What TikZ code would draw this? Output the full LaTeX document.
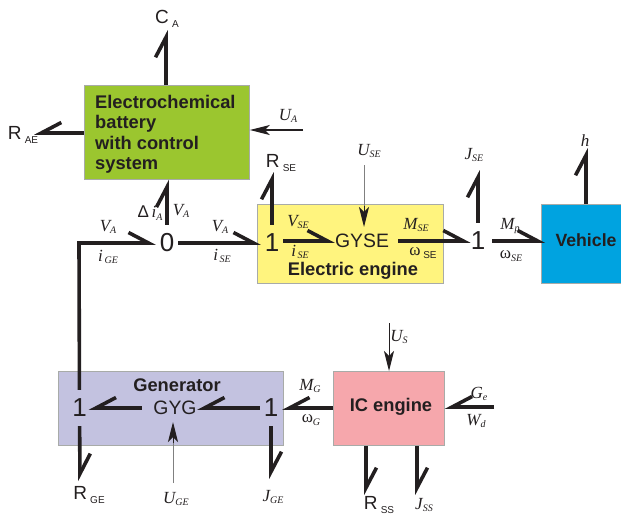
\documentclass[tikz,border=0pt]{standalone}
\usepackage{fontspec}
\setmainfont{Liberation Sans}
\newfontfamily\lserif{Liberation Serif}
\usetikzlibrary{arrows.meta}
\definecolor{ink}{HTML}{231F20}
\definecolor{cgreen}{HTML}{9BC62F}
\definecolor{cyellow}{HTML}{FFF47E}
\definecolor{cblue}{HTML}{00A3E0}
\definecolor{cpurple}{HTML}{C3C2E0}
\definecolor{cpink}{HTML}{F6A7AC}
\definecolor{cedge}{HTML}{A8ABA8}
\newcommand\symlab[2]{{\lserif\itshape\fontsize{17}{17}\selectfont #1\raisebox{-2.5pt}{\fontsize{10}{10}\selectfont #2}}}
\newcommand\omlab[2]{{\lserif\fontsize{17}{17}\selectfont ω\raisebox{-2.5pt}{\itshape\fontsize{10}{10}\selectfont #2}}}
\newcommand\ressub[2]{{\fontsize{19}{19}\selectfont #1\,\raisebox{-4pt}{\fontsize{10}{10}\selectfont #2}}}
\tikzset{
  block/.style={draw=cedge,line width=0.8pt,anchor=north west,inner sep=0pt},
  blocktext/.style={font=\fontsize{18.3}{20.4}\selectfont\bfseries,text=ink,inner sep=0pt},
  gyr/.style={font=\fontsize{19.4}{19}\selectfont,text=ink,inner sep=0pt,minimum width=#1,minimum height=18pt},
  junct/.style={font=\fontsize{26}{26}\selectfont,text=ink,inner sep=0pt,minimum width=22pt,minimum height=36pt},
  lab/.style={text=ink,inner sep=0pt},
  bondl/.style={draw=ink,line width=3.6pt,-{Straight Barb[left,length=20pt,width=21pt]}},
  bondr/.style={draw=ink,line width=3.6pt,-{Straight Barb[right,length=20pt,width=21pt]}},
  ctrl/.style={draw=#1,line width=1pt},
  ctrlhead/.style={draw=ink,line width=1pt,-{Stealth[length=20pt,width=10pt,inset=5pt,color=ink]}},
}
\begin{document}
\begin{tikzpicture}[x=1pt,y=-1pt]
\useasboundingbox (0,0) rectangle (621,515);
\clip (0,0) rectangle (621,515);
% blocks
\node[block,fill=cgreen,minimum width=165pt,minimum height=94pt] (battery) at (84,85) {};
\node[block,fill=cyellow,minimum width=186pt,minimum height=79pt] (eengine) at (257,204) {};
\node[block,fill=cblue,minimum width=82pt,minimum height=79pt] (vehicle) at (541,204) {};
\node[block,fill=cpurple,minimum width=225pt,minimum height=74pt] (generator) at (58,371) {};
\node[block,fill=cpink,minimum width=111pt,minimum height=74pt] (icengine) at (333,371) {};
% block texts
\node[blocktext,align=left,anchor=north west] (batterytext) at (95,95) {Electrochemical\\battery\\with control\\system};
\node[blocktext] (eenginetext) at (353,271) {Electric engine};
\node[blocktext,font=\fontsize{17.7}{20}\selectfont\bfseries] (vehicletext) at (586,240) {Vehicle};
\node[blocktext] (generatortext) at (177,385) {Generator};
\node[blocktext] (icenginetext) at (391,407) {IC engine};
% junctions
\node[junct] (zero) at (167,243) {0};
\node[junct] (oneE) at (272,243) {1};
\node[gyr=54pt] (gyse) at (362,241) {GYSE};
\node[junct,minimum width=12pt] (oneS) at (478,241) {1};
\node[junct,minimum width=18pt] (oneGl) at (79.5,408) {1};
\node[gyr=44pt] (gyg) at (175,408) {GYG};
\node[junct] (oneGr) at (271,408) {1};
% free ends
\coordinate (ca) at (166,30);
\coordinate (rae) at (34,133);
\coordinate (uastart) at (303,130);
\coordinate (rse) at (272,172);
\coordinate (jse) at (478,170);
\coordinate (hend) at (586,148);
\coordinate (vtip) at (545,241);
\coordinate (usestart) at (364,165);
\coordinate (usetip) at (364,227);
\coordinate (ugestart) at (173,483);
\coordinate (ugetip) at (173,422);
\coordinate (rge) at (80,481);
\coordinate (jge) at (271,479);
\coordinate (usstart) at (389,323);
\coordinate (rss) at (366,495);
\coordinate (jss) at (417,495);
\coordinate (gestart) at (494,407);
\coordinate (corner) at (79,243);
% bonds
\draw[bondl] (battery.north -| ca) -- (ca);
\draw[bondr] (battery.west |- rae) -- (rae);
\draw[bondl] (zero) -- (zero |- battery.south);
\draw[bondl] (zero) -- (oneE);
\draw[bondl] (oneE) -- (rse);
\draw[bondl] (oneE.east |- gyse) -- (gyse.west);
\draw[bondl] ([xshift=9pt]gyse.east) -- (oneS.west);
\draw[bondl] (oneS) -- (jse);
\draw[bondl] ([xshift=7pt]oneS.east) -- (vtip);
\draw[bondl] (vehicle.north -| hend) -- (hend);
\draw[bondl,line join=miter] (oneGl) -- (corner) -- (zero.west);
\draw[bondr] (icengine.west |- oneGr) -- (oneGr.east);
\draw[bondr] (oneGr) -- (gyg);
\draw[bondr] ([xshift=-11pt]gyg.west) -- (oneGl);
\draw[bondl] (oneGl) -- (rge);
\draw[bondl] (oneGr) -- (jge);
\draw[bondl] (icengine.south -| rss) -- (rss);
\draw[bondl] (icengine.south -| jss) -- (jss);
\draw[bondr] (gestart) -- (icengine.east |- gestart);
% control signals
\draw[ctrl=ink,line width=1.6pt] (uastart) -- ([xshift=15pt]battery.east |- uastart);
\draw[ctrlhead] ([xshift=21pt]battery.east |- uastart) -- (battery.east |- uastart);
\draw[ctrl=gray] (usestart) -- ([yshift=15pt]usetip);
\draw[ctrlhead] ([yshift=21pt]usetip) -- (usetip);
\draw[ctrl=gray] (ugestart) -- ([yshift=-15pt]ugetip);
\draw[ctrlhead] ([yshift=-21pt]ugetip) -- (ugetip);
\draw[ctrlhead] (usstart) -- (icengine.north -| usstart);
% labels
\node[lab] (lca) at (167,19) {\ressub{C}{A}};
\node[lab] (lrae) at (23,135) {\ressub{R}{AE}};
\node[lab] (lua) at (288,116) {\symlab{U}{A}};
\node[lab] (lrse) at (281,163) {\ressub{R}{SE}};
\node[lab] (ldi) at (150,213) {{\fontsize{17}{17}\selectfont Δ} \symlab{i}{A}};
\node[lab] (lvab) at (181,211) {\symlab{V}{A}};
\node[lab] (lvag) at (108,227) {\symlab{V}{A}};
\node[lab] (ligE) at (108,257) {\symlab{i}{\,GE}};
\node[lab] (lvas) at (220,227) {\symlab{V}{A}};
\node[lab] (lise) at (222,256) {\symlab{i}{\,SE}};
\node[lab] (lvse) at (298,222) {\symlab{V}{SE}};
\node[lab] (lise2) at (300,252) {\symlab{i}{\,SE}};
\node[lab] (luse) at (369,151) {\symlab{U}{SE}};
\node[lab] (lmse) at (416,225) {\symlab{M}{SE}};
\node[lab] (lose) at (423,253) {{\lserif\fontsize{17}{17}\selectfont ω}\ \raisebox{-3pt}{\fontsize{10}{10}\selectfont SE}};
\node[lab] (ljse) at (474,155) {\symlab{J}{SE}};
\node[lab] (lmp) at (510,226) {\symlab{M}{p}};
\node[lab] (losv) at (511,256) {\omlab{}{SE}};
\node[lab] (lh) at (585,142) {\symlab{h}{}};
\node[lab] (lmg) at (310,386) {\symlab{M}{G}};
\node[lab] (log) at (311,420) {\omlab{}{G}};
\node[lab] (lge) at (479,394) {\symlab{G}{e}};
\node[lab] (lwd) at (476,421) {\symlab{W}{d}};
\node[lab] (lus) at (399,337) {\symlab{U}{S}};
\node[lab] (lrge) at (89,495) {\ressub{R}{GE}};
\node[lab] (luge) at (176,499) {\symlab{U}{GE}};
\node[lab] (ljge) at (273,497) {\symlab{J}{GE}};
\node[lab,anchor=base] (lrss) at (379,509) {\ressub{R}{SS}};
\node[lab,anchor=base] (ljss) at (424,509) {\symlab{J}{SS}};
\end{tikzpicture}
\end{document}
